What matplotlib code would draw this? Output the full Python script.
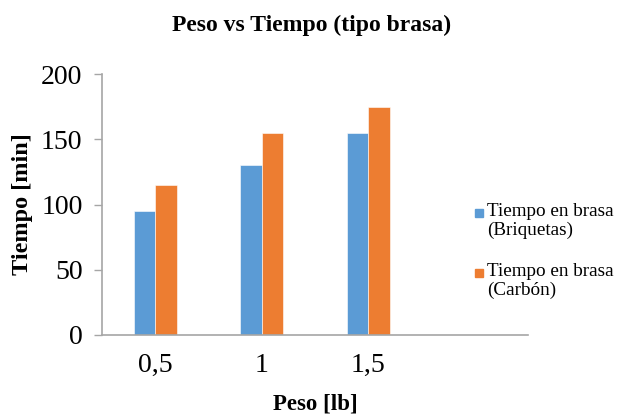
import numpy as np
import matplotlib.pyplot as plt
from matplotlib.patches import Rectangle

plt.rcParams['font.family'] = ['Liberation Serif', 'DejaVu Serif']

# Datos: peso de carbón vs tiempo en brasa
categorias = ['0,5', '1', '1,5', '']
briquetas = [95, 130, 155]
carbon = [115, 155, 175]
series = ['Tiempo en brasa\n(Briquetas)', 'Tiempo en brasa\n(Carbón)']
colores = ['#5B9BD5', '#ED7D31']

fig = plt.figure(figsize=(6.19, 4.17), dpi=100)
ax = fig.add_axes([102 / 619, 1 - 335 / 417, 426 / 619, 261 / 417])

x = np.arange(len(briquetas))
ancho = 0.2
ax.bar(x - ancho / 2, briquetas, ancho, color=colores[0], edgecolor='white', linewidth=0.4)
ax.bar(x + ancho / 2, carbon, ancho, color=colores[1], edgecolor='white', linewidth=0.4)

ax.set_xlim(-0.5, len(categorias) - 0.5)
ax.set_ylim(0, 200)
ax.set_yticks(np.arange(0, 201, 50))
ax.set_xticks(np.arange(len(categorias)))
ax.set_xticklabels(categorias)

for s in ['top', 'right']:
    ax.spines[s].set_visible(False)
for s in ['left', 'bottom']:
    ax.spines[s].set_color('#A6A6A6')
    ax.spines[s].set_linewidth(1.2)

ax.tick_params(axis='y', length=6, width=1, color='#A6A6A6', labelsize=20, pad=8)
ax.tick_params(axis='x', length=0, labelsize=20, pad=13)

ax.set_xlabel('Peso [lb]', fontsize=16.5, fontweight='bold', labelpad=11)
ax.set_ylabel('Tiempo [min]', fontsize=17.5, fontweight='bold', labelpad=6)
fig.text(312 / 619, 1 - 25 / 417, 'Peso vs Tiempo (tipo brasa)', fontsize=17,
         fontweight='bold', ha='center', va='center')

# Leyenda a la derecha, sobre el área vacía del eje
for i, (nombre, col) in enumerate(zip(series, colores)):
    y0 = 213 + i * 60
    fig.add_artist(Rectangle((475 / 619, 1 - (y0 + 4) / 417), 8 / 619, 8 / 417,
                             transform=fig.transFigure, color=col))
    fig.text(487 / 619, 1 - (y0 - 10) / 417, nombre, fontsize=13.8, ha='left', va='top',
             linespacing=1.1)

fig.savefig('out.png', dpi=100)
